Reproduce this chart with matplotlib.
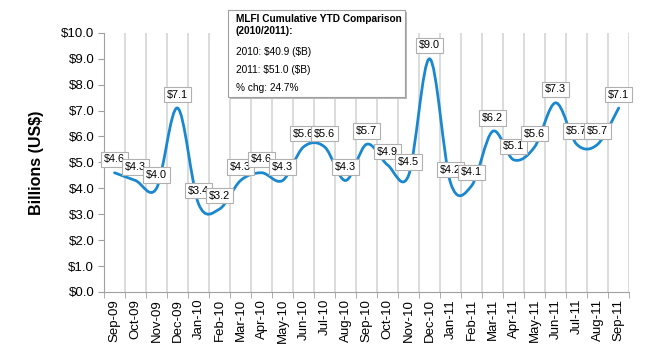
import matplotlib.pyplot as plt
import numpy as np
from matplotlib.path import Path
from matplotlib.patches import PathPatch, Rectangle

plt.rcParams['font.family'] = ['Liberation Sans', 'DejaVu Sans']

months = ["Sep-09", "Oct-09", "Nov-09", "Dec-09", "Jan-10", "Feb-10", "Mar-10",
          "Apr-10", "May-10", "Jun-10", "Jul-10", "Aug-10", "Sep-10", "Oct-10",
          "Nov-10", "Dec-10", "Jan-11", "Feb-11", "Mar-11", "Apr-11", "May-11",
          "Jun-11", "Jul-11", "Aug-11", "Sep-11"]
values = [4.6, 4.3, 4.0, 7.1, 3.4, 3.2, 4.3, 4.6, 4.3, 5.6, 5.6, 4.3, 5.7,
          4.9, 4.5, 9.0, 4.2, 4.1, 6.2, 5.1, 5.6, 7.3, 5.7, 5.7, 7.1]

note_title = "MLFI Cumulative YTD Comparison\n(2010/2011):"
note_lines = ["2010: \\$40.9 (\\$B)", "2011: \\$51.0 (\\$B)", "% chg: 24.7%"]

fig = plt.figure(figsize=(6.5, 3.5), dpi=100)
ax = fig.add_axes([0.16, 0.166, 0.808, 0.74])

x = np.arange(len(values))
y = np.array(values, dtype=float)

# smoothed line like excel (bezier through the points)
verts = [(x[0], y[0])]
codes = [Path.MOVETO]
n = len(x)
for i in range(n - 1):
    p0 = (x[max(i - 1, 0)], y[max(i - 1, 0)])
    p1 = (x[i], y[i])
    p2 = (x[i + 1], y[i + 1])
    p3 = (x[min(i + 2, n - 1)], y[min(i + 2, n - 1)])
    c1 = (p1[0] + (p2[0] - p0[0]) / 6, p1[1] + (p2[1] - p0[1]) / 6)
    c2 = (p2[0] - (p3[0] - p1[0]) / 6, p2[1] - (p3[1] - p1[1]) / 6)
    verts += [c1, c2, p2]
    codes += [Path.CURVE4] * 3
ax.add_patch(PathPatch(Path(verts, codes), facecolor='none',
                       edgecolor='#1a88cf', lw=2.0, capstyle='round', zorder=3))

for xi, yi in zip(x, y):
    ax.annotate(f"\\${yi:.1f}", (xi, yi), xytext=(0, 6), textcoords='offset points',
                ha='center', va='bottom', fontsize=7.8, zorder=4,
                bbox=dict(boxstyle='square,pad=0.25', fc='white', ec='#b0b0b0', lw=0.8))

ax.set_xlim(-0.5, n - 0.5)
ax.set_ylim(0, 10)
ax.set_yticks(np.arange(0, 10.5, 1))
ax.set_yticklabels([f"${v:.1f}" for v in np.arange(0, 10.5, 1)], fontsize=9.5)
ax.set_xticks(x)
ax.set_xticklabels(months, rotation=90, fontsize=9.5)
ax.set_xticks(np.arange(-0.5, n, 1), minor=True)
ax.tick_params(axis='x', which='major', length=0, pad=5)
ax.tick_params(axis='x', which='minor', length=4, color='#a0a0a0')
ax.tick_params(axis='y', length=4, color='#a0a0a0', pad=3)
ax.grid(axis='x', which='minor', color='#d9d9d9', lw=1.3)
ax.set_axisbelow(True)
for s in ['top', 'right']:
    ax.spines[s].set_visible(False)
for s in ['left', 'bottom']:
    ax.spines[s].set_color('#a0a0a0')
ax.set_ylabel("Billions (US$)", fontsize=11.5, fontweight='bold', labelpad=12)

# note box
fig.patches.append(Rectangle((230 / 650, 1 - 99 / 350), 177 / 650, 87 / 350,
                             transform=fig.transFigure, fc='#b8b8b8', ec='none', zorder=5))
fig.patches.append(Rectangle((228 / 650, 1 - 97 / 350), 177 / 650, 87 / 350,
                             transform=fig.transFigure, fc='white', ec='#a0a0a0', lw=0.8, zorder=6))
fig.text(236 / 650, 1 - 14 / 350, note_title, fontsize=7.3, fontweight='bold',
         va='top', ha='left', zorder=7, linespacing=1.2)
for k, line in enumerate(note_lines):
    fig.text(236 / 650, 1 - (52 + 18 * k) / 350, line, fontsize=7.3,
             va='center', ha='left', zorder=7)

fig.savefig("out.png", dpi=100)
